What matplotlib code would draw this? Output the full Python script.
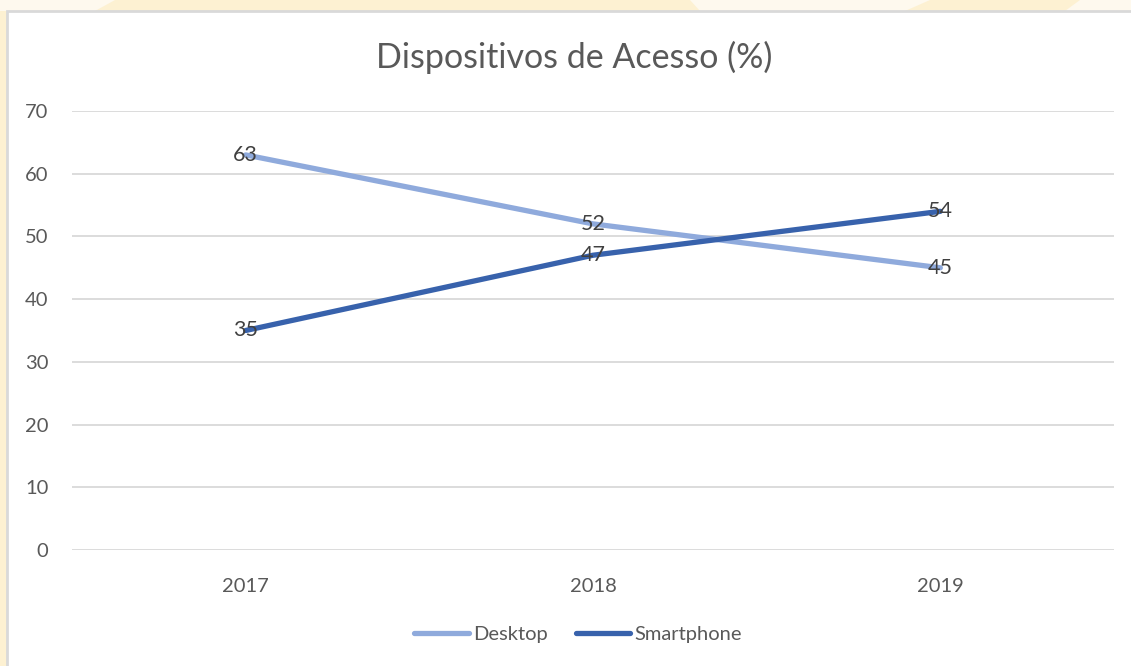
import matplotlib.pyplot as plt
from matplotlib.patches import Rectangle, Polygon

years = ["2017", "2018", "2019"]
desktop = [63, 52, 45]
smartphone = [35, 47, 54]
y_ticks = [0, 10, 20, 30, 40, 50, 60, 70]

plt.rcParams["font.family"] = ["Lato", "DejaVu Sans"]

fig = plt.figure(figsize=(11.31, 6.66), dpi=100)
fig.patch.set_facecolor("white")

W, H = 1131.0, 666.0

def fx(px):
    return px / W

def fy(py):
    return 1 - py / H

# pale decorative background strip behind the chart frame
fig.patches.append(Rectangle((0, fy(666)), 1, 1, transform=fig.transFigure,
                             facecolor="#FDF1D2", edgecolor="none", zorder=0))
for pts in [[(0, 0), (115, 0), (95, 11), (0, 11)],
            [(690, 0), (930, 0), (905, 11), (700, 11)],
            [(1080, 0), (1131, 0), (1131, 11), (1065, 11)]]:
    fig.patches.append(Polygon([(fx(a), fy(b)) for a, b in pts], closed=True,
                               transform=fig.transFigure, facecolor="#FEF9EE",
                               edgecolor="none", zorder=0))
# chart area frame
fig.patches.append(Rectangle((fx(7), fy(680)), fx(1150) - fx(7), fy(11) - fy(680),
                             transform=fig.transFigure, facecolor="white",
                             edgecolor="#D9D9D9", linewidth=2, zorder=1))

ax = fig.add_axes([fx(72), fy(550), fx(1114) - fx(72), fy(111) - fy(550)])
ax.set_facecolor("none")
ax.set_zorder(2)

x = list(range(len(years)))
ax.plot(x, desktop, color="#8FAADC", linewidth=3.8, solid_capstyle="round", label="Desktop", zorder=3)
ax.plot(x, smartphone, color="#3862AC", linewidth=3.8, solid_capstyle="round", label="Smartphone", zorder=3)

for xi, v in zip(x, desktop):
    ax.text(xi, v, str(v), ha="center", va="center", fontsize=15.5, color="#404040", zorder=4)
for xi, v in zip(x, smartphone):
    ax.text(xi, v, str(v), ha="center", va="center", fontsize=15.5, color="#404040", zorder=4)

ax.set_xlim(-0.5, len(years) - 0.5)
ax.set_ylim(0, 70)
ax.set_yticks(y_ticks)
ax.set_xticks(x)
ax.set_xticklabels(years)
ax.grid(axis="y", color="#D9D9D9", linewidth=1.3)
ax.set_axisbelow(True)
for s in ax.spines.values():
    s.set_visible(False)
ax.tick_params(axis="y", length=0, pad=17, labelsize=14.5, labelcolor="#595959")
ax.tick_params(axis="x", length=0, pad=20, labelsize=14.5, labelcolor="#595959")

fig.text(fx(574), fy(57), "Dispositivos de Acesso (%)", ha="center", va="center",
         fontsize=24.5, color="#595959", fontweight="normal", zorder=5)

leg = fig.legend(loc="center", bbox_to_anchor=(fx(578), fy(634)), ncol=2, frameon=False,
                 fontsize=14.5, handlelength=2.7, handletextpad=0.2, columnspacing=1.4)
for t in leg.get_texts():
    t.set_color("#595959")

fig.savefig("out.png", dpi=100)
